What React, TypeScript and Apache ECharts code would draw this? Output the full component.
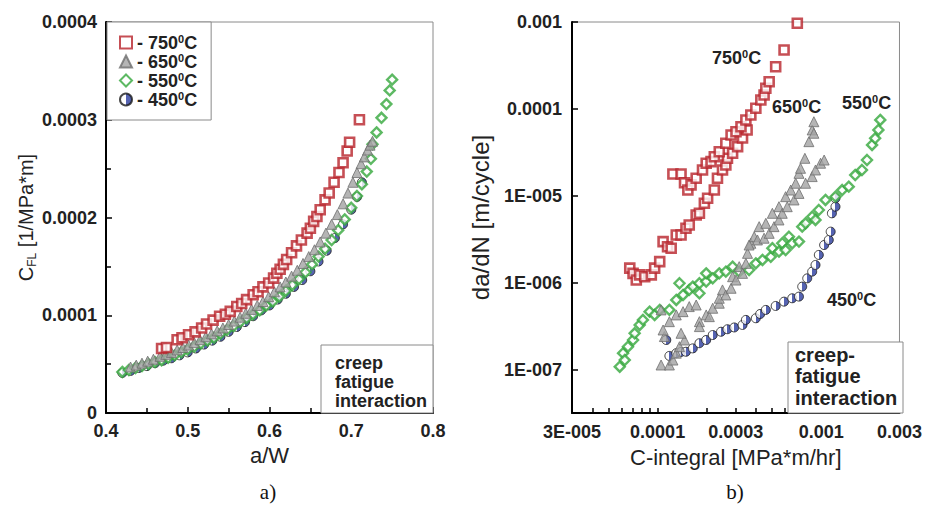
import React, { useEffect, useRef } from 'react';
import * as echarts from 'echarts';

// ---------- data ----------
const legendNames = ['750', '650', '550', '450'];

// left panel: a/W vs C_FL [1/MPa*m]
const cfl750 = [
  [0.468, 6.6e-5], [0.474, 6.7e-5], [0.487, 7.5e-5], [0.493, 7.7e-5], [0.501, 8.0e-5], [0.509, 8.3e-5],
  [0.517, 8.7e-5], [0.523, 9.1e-5], [0.531, 9.5e-5], [0.539, 9.9e-5], [0.546, 1.01e-4], [0.552, 1.04e-4],
  [0.560, 1.09e-4], [0.566, 1.12e-4], [0.572, 1.16e-4], [0.580, 1.21e-4], [0.586, 1.24e-4], [0.592, 1.29e-4],
  [0.599, 1.33e-4], [0.605, 1.38e-4], [0.609, 1.43e-4], [0.613, 1.47e-4], [0.617, 1.52e-4], [0.621, 1.57e-4],
  [0.627, 1.64e-4], [0.633, 1.71e-4], [0.639, 1.77e-4], [0.646, 1.84e-4], [0.650, 1.89e-4], [0.654, 1.96e-4],
  [0.658, 2.01e-4], [0.662, 2.08e-4], [0.668, 2.18e-4], [0.673, 2.25e-4], [0.679, 2.36e-4], [0.685, 2.46e-4],
  [0.690, 2.56e-4], [0.695, 2.68e-4], [0.698, 2.77e-4], [0.710, 3.0e-4],
];
const cfl650 = [
  [0.430, 4.7e-5], [0.437, 4.9e-5], [0.444, 5.1e-5], [0.451, 5.3e-5], [0.458, 5.5e-5], [0.466, 5.8e-5],
  [0.473, 6.0e-5], [0.480, 6.2e-5], [0.487, 6.45e-5], [0.494, 6.7e-5], [0.501, 6.95e-5], [0.508, 7.2e-5],
  [0.515, 7.5e-5], [0.522, 7.8e-5], [0.529, 8.1e-5], [0.536, 8.4e-5], [0.543, 8.7e-5], [0.550, 9.05e-5],
  [0.557, 9.4e-5], [0.564, 9.8e-5], [0.571, 1.02e-4], [0.578, 1.06e-4], [0.585, 1.10e-4], [0.592, 1.14e-4],
  [0.599, 1.19e-4], [0.606, 1.24e-4], [0.613, 1.29e-4], [0.620, 1.34e-4], [0.627, 1.40e-4], [0.634, 1.46e-4],
  [0.641, 1.53e-4], [0.648, 1.60e-4], [0.655, 1.67e-4], [0.662, 1.75e-4], [0.669, 1.84e-4], [0.676, 1.93e-4],
  [0.683, 2.03e-4], [0.690, 2.14e-4], [0.696, 2.25e-4], [0.702, 2.36e-4], [0.707, 2.46e-4], [0.712, 2.55e-4],
  [0.716, 2.62e-4], [0.720, 2.69e-4], [0.723, 2.74e-4], [0.726, 2.78e-4],
];
const cfl550 = [
  [0.420, 4.2e-5], [0.428, 4.4e-5], [0.436, 4.6e-5], [0.444, 4.8e-5], [0.452, 5.0e-5], [0.460, 5.2e-5],
  [0.468, 5.4e-5], [0.476, 5.65e-5], [0.484, 5.9e-5], [0.492, 6.2e-5], [0.500, 6.5e-5], [0.508, 6.8e-5],
  [0.516, 7.1e-5], [0.524, 7.4e-5], [0.532, 7.7e-5], [0.540, 8.1e-5], [0.548, 8.5e-5], [0.556, 8.9e-5],
  [0.564, 9.3e-5], [0.572, 9.7e-5], [0.580, 1.01e-4], [0.588, 1.05e-4], [0.596, 1.10e-4], [0.604, 1.14e-4],
  [0.612, 1.19e-4], [0.620, 1.25e-4], [0.628, 1.31e-4], [0.636, 1.37e-4], [0.644, 1.44e-4], [0.652, 1.52e-4],
  [0.660, 1.60e-4], [0.668, 1.68e-4], [0.676, 1.77e-4], [0.684, 1.87e-4], [0.692, 1.98e-4], [0.700, 2.10e-4],
  [0.707, 2.22e-4], [0.713, 2.34e-4], [0.719, 2.47e-4], [0.724, 2.60e-4], [0.726, 2.75e-4], [0.731, 2.87e-4],
  [0.737, 3.02e-4], [0.743, 3.16e-4], [0.747, 3.30e-4], [0.750, 3.41e-4],
];
const cfl450 = [
  [0.420, 4.1e-5], [0.430, 4.3e-5], [0.440, 4.6e-5], [0.450, 4.8e-5], [0.460, 5.1e-5], [0.470, 5.35e-5],
  [0.480, 5.6e-5], [0.490, 5.9e-5], [0.500, 6.2e-5], [0.510, 6.6e-5], [0.520, 7.0e-5], [0.530, 7.4e-5],
  [0.540, 7.8e-5], [0.550, 8.3e-5], [0.560, 8.8e-5], [0.570, 9.3e-5], [0.580, 9.9e-5], [0.590, 1.05e-4],
  [0.600, 1.10e-4], [0.610, 1.16e-4], [0.620, 1.22e-4], [0.630, 1.29e-4], [0.640, 1.36e-4], [0.650, 1.45e-4],
  [0.660, 1.55e-4], [0.670, 1.66e-4], [0.680, 1.79e-4], [0.690, 1.93e-4], [0.700, 2.08e-4], [0.707, 2.21e-4],
  [0.713, 2.36e-4],
];

// right panel: C-integral [MPa*m/hr] vs da/dN [m/cycle]
const dadn750 = [
  [6.76e-5, 1.48e-6], [7.08e-5, 1.29e-6], [7.41e-5, 1.08e-6], [7.77e-5, 1.24e-6], [8.34e-5, 1.18e-6],
  [9.15e-5, 1.24e-6], [9.59e-5, 1.48e-6], [1.03e-4, 1.76e-6], [1.08e-4, 2.99e-6], [1.15e-4, 2.61e-6],
  [1.21e-4, 2.51e-6], [1.30e-4, 3.56e-6], [1.39e-4, 3.56e-6], [1.49e-4, 4.26e-6], [1.56e-4, 4.64e-6],
  [1.72e-4, 6.05e-6], [1.80e-4, 6.32e-6], [1.93e-4, 8.24e-6], [2.02e-4, 9.41e-6], [2.22e-4, 1.17e-5],
  [2.32e-4, 1.60e-5], [2.49e-4, 1.99e-5], [2.61e-4, 2.27e-5], [2.67e-4, 2.71e-5], [2.87e-4, 3.10e-5],
  [3.08e-4, 3.69e-5], [3.30e-4, 4.64e-5], [3.52e-4, 5.74e-5],
  [1.24e-4, 1.79e-5], [1.39e-4, 1.79e-5], [1.46e-4, 1.42e-5], [1.53e-4, 1.17e-5], [1.60e-4, 1.34e-5],
  [1.72e-4, 1.60e-5], [1.88e-4, 1.99e-5], [1.98e-4, 2.38e-5], [2.12e-4, 2.48e-5], [2.22e-4, 2.83e-5],
  [2.38e-4, 3.23e-5], [2.61e-4, 4.04e-5], [2.81e-4, 5.02e-5], [3.01e-4, 5.48e-5], [3.23e-4, 6.26e-5],
  [3.46e-4, 7.48e-5], [3.71e-4, 8.53e-5], [3.98e-4, 1.02e-4], [4.27e-4, 1.27e-4], [4.47e-4, 1.45e-4],
  [4.58e-4, 1.73e-4], [4.80e-4, 2.06e-4], [5.26e-4, 3.06e-4], [5.92e-4, 4.77e-4], [7.13e-4, 9.66e-4],
];
const dadn650 = [
  [1.05e-4, 1.14e-7], [1.18e-4, 1.14e-7], [1.24e-4, 1.30e-7], [1.30e-4, 1.56e-7], [1.36e-4, 1.85e-7],
  [1.46e-4, 2.21e-7], [1.39e-4, 2.64e-7], [1.10e-4, 2.42e-7], [1.08e-4, 2.88e-7], [1.05e-4, 4.90e-7],
  [1.18e-4, 3.59e-7], [1.30e-4, 4.29e-7], [1.43e-4, 4.68e-7], [1.56e-4, 5.35e-7], [1.72e-4, 5.58e-7],
  [1.80e-4, 3.59e-7], [1.80e-4, 3.15e-7], [1.98e-4, 4.29e-7], [2.07e-4, 4.10e-7], [2.17e-4, 5.12e-7],
  [2.38e-4, 5.85e-7], [2.38e-4, 6.67e-7], [2.49e-4, 8.32e-7], [2.61e-4, 7.28e-7], [2.81e-4, 8.69e-7],
  [2.87e-4, 1.18e-6], [3.01e-4, 1.08e-6], [3.15e-4, 1.54e-6], [3.30e-4, 1.29e-6], [3.46e-4, 1.68e-6],
  [3.54e-4, 2.19e-6], [3.71e-4, 2.86e-6], [3.62e-4, 2.73e-6], [3.89e-4, 3.40e-6], [4.17e-4, 4.44e-6],
  [4.58e-4, 4.85e-6], [5.02e-4, 6.32e-6], [5.51e-4, 7.53e-6], [4.07e-4, 3.12e-6], [4.47e-4, 3.27e-6],
  [4.80e-4, 3.72e-6], [5.14e-4, 4.44e-6], [5.51e-4, 5.30e-6], [5.77e-4, 6.32e-6], [6.19e-4, 7.53e-6],
  [6.81e-4, 9.00e-6], [7.30e-4, 1.07e-5], [8.01e-4, 1.40e-5], [8.79e-4, 1.67e-5], [9.21e-4, 1.99e-5],
  [9.89e-4, 2.38e-5], [1.04e-3, 2.59e-5], [6.05e-4, 9.82e-6], [6.50e-4, 1.17e-5], [6.97e-4, 1.40e-5],
  [7.30e-4, 1.82e-5], [7.46e-4, 2.08e-5], [7.93e-4, 2.71e-5], [8.39e-4, 4.21e-5], [8.79e-4, 5.74e-5],
  [9.00e-4, 7.14e-5], [9.00e-4, 5.26e-5],
];
const dadn550 = [
  [5.87e-5, 1.09e-7], [6.15e-5, 1.56e-7], [6.30e-5, 1.30e-7], [6.59e-5, 1.85e-7], [7.08e-5, 2.21e-7],
  [7.24e-5, 2.64e-7], [7.77e-5, 3.29e-7], [8.13e-5, 3.76e-7], [8.93e-5, 4.68e-7], [9.59e-5, 4.29e-7],
  [1.03e-4, 4.90e-7], [1.18e-4, 4.90e-7], [1.30e-4, 6.38e-7], [1.36e-4, 9.93e-7], [1.43e-4, 7.28e-7],
  [1.56e-4, 8.32e-7], [1.64e-4, 9.08e-7], [1.80e-4, 9.93e-7], [1.80e-4, 7.62e-7], [1.98e-4, 1.04e-6],
  [1.98e-4, 1.29e-6], [2.17e-4, 1.13e-6], [2.38e-4, 1.29e-6], [2.61e-4, 1.35e-6], [2.87e-4, 1.54e-6],
  [3.15e-4, 1.35e-6], [3.62e-4, 1.41e-6], [3.98e-4, 1.68e-6], [4.37e-4, 1.84e-6], [4.91e-4, 2.00e-6],
  [5.02e-4, 2.51e-6], [5.51e-4, 2.29e-6], [5.77e-4, 2.86e-6], [6.05e-4, 2.39e-6], [6.34e-4, 3.40e-6],
  [6.64e-4, 2.86e-6], [7.30e-4, 2.99e-6], [7.64e-4, 4.44e-6], [8.01e-4, 4.85e-6], [8.79e-4, 5.78e-6],
  [9.21e-4, 5.30e-6], [9.65e-4, 6.90e-6], [1.06e-3, 9.00e-6], [1.22e-3, 9.82e-6], [1.34e-3, 1.17e-5],
  [1.47e-3, 1.28e-5], [1.61e-3, 1.74e-5], [1.77e-3, 1.99e-5], [1.90e-3, 2.59e-5], [2.04e-3, 3.86e-5],
  [2.13e-3, 4.60e-5], [2.23e-3, 5.74e-5], [2.29e-3, 7.48e-5],
];
const dadn450 = [
  [1.13e-4, 2.21e-7], [1.18e-4, 1.45e-7], [1.30e-4, 1.56e-7], [1.39e-4, 1.61e-7], [1.49e-4, 1.62e-7],
  [1.64e-4, 1.77e-7], [1.80e-4, 2.03e-7], [1.98e-4, 2.21e-7], [2.17e-4, 2.52e-7], [2.44e-4, 2.75e-7],
  [2.67e-4, 2.94e-7], [2.94e-4, 3.08e-7], [3.30e-4, 3.29e-7], [3.46e-4, 3.76e-7], [3.98e-4, 3.93e-7],
  [4.23e-4, 4.40e-7], [4.58e-4, 4.90e-7], [5.26e-4, 5.44e-7], [5.92e-4, 6.10e-7], [6.64e-4, 6.67e-7],
  [7.30e-4, 6.97e-7], [7.64e-4, 9.08e-7], [8.20e-4, 1.13e-6], [8.79e-4, 1.35e-6], [9.21e-4, 1.61e-6],
  [9.65e-4, 2.10e-6], [1.04e-3, 2.73e-6], [1.11e-3, 3.12e-6], [1.14e-3, 3.89e-6], [1.16e-3, 6.32e-6],
  [1.22e-3, 7.53e-6], [1.22e-3, 9.41e-6],
];

const leftXTicks = [0.4, 0.5, 0.6, 0.7, 0.8];
const leftYTicks = [0, 0.0001, 0.0002, 0.0003, 0.0004];
const rightXTicks = [3e-5, 1e-4, 3e-4, 1e-3, 3e-3];
const rightXLabels = ['3E-005', '0.0001', '0.0003', '0.001', '0.003'];
const rightXMinor = [3e-5, 4e-5, 5e-5, 6e-5, 7e-5, 8e-5, 9e-5, 1e-4, 2e-4, 3e-4, 4e-4, 5e-4, 6e-4, 7e-4, 8e-4, 9e-4, 1e-3, 2e-3, 3e-3];
const rightYTicks = [1e-7, 1e-6, 1e-5, 1e-4, 1e-3];
const rightYLabels = ['1E-007', '1E-006', '1E-005', '0.0001', '0.001'];

const FONT = '"Liberation Sans", Arial, Helvetica, sans-serif';
const TXT = '#222';

function logLabel(ticks: number[], labels: string[]) {
  return (v: number) => {
    const i = ticks.findIndex((t) => Math.abs(Math.log10(t) - Math.log10(v)) < 0.01);
    return i >= 0 ? labels[i] : '';
  };
}

export default function App() {
  const ref = useRef<HTMLDivElement>(null);
  useEffect(() => {
    const chart = echarts.init(ref.current!, null, { renderer: 'svg' });
    const blueFill = new echarts.graphic.LinearGradient(0, 0, 1, 0, [
      { offset: 0, color: '#ffffff' }, { offset: 0.5, color: '#ffffff' },
      { offset: 0.5, color: '#2b3c9e' }, { offset: 1, color: '#2b3c9e' },
    ]);
    const styles: Record<string, any> = {
      '750': { symbol: 'rect', symbolSize: 9, itemStyle: { color: '#ffffff', borderColor: '#b8232a', borderWidth: 2.6 } },
      '650': { symbol: 'triangle', symbolSize: 10, itemStyle: { color: '#a3a3a3', borderColor: '#6e6e6e', borderWidth: 1 } },
      '550': { symbol: 'diamond', symbolSize: 10, itemStyle: { color: '#ffffff', borderColor: '#35a83c', borderWidth: 2.4 } },
      '450': { symbol: 'circle', symbolSize: 9, itemStyle: { color: blueFill, borderColor: '#1a1a1a', borderWidth: 1 } },
    };
    const leftData: Record<string, number[][]> = { '750': cfl750, '650': cfl650, '550': cfl550, '450': cfl450 };
    const rightData: Record<string, number[][]> = { '750': dadn750, '650': dadn650, '550': dadn550, '450': dadn450 };
    const drawOrder = ['450', '550', '650', '750'];
    const series: any[] = [];
    drawOrder.forEach((n) => {
      series.push({ type: 'scatter', name: n, xAxisIndex: 0, yAxisIndex: 0, data: leftData[n], ...styles[n] });
      series.push({ type: 'scatter', name: n, xAxisIndex: 1, yAxisIndex: 1, data: rightData[n], ...styles[n] });
    });

    const tickLabel = { color: TXT, fontFamily: FONT, fontWeight: 'bold', fontSize: 18 };
    const axisLine = { show: true, onZero: false, lineStyle: { color: '#000', width: 2 } };
    const supRich = { sup: { fontSize: 11, lineHeight: 9, verticalAlign: 'top', fontFamily: FONT, fontWeight: 'bold', color: TXT } };

    const option: any = {
      animation: false,
      backgroundColor: '#ffffff',
      grid: [
        { left: 106, right: 492, top: 22, bottom: 94, show: true, borderColor: '#8a8a8a', borderWidth: 1 },
        { left: 572, right: 23, top: 22, bottom: 94, show: true, borderColor: '#8a8a8a', borderWidth: 1 },
      ],
      legend: {
        data: legendNames,
        orient: 'vertical',
        left: 107,
        top: 22,
        itemWidth: 12,
        itemHeight: 12,
        itemGap: 0,
        padding: [11, 14, 11, 12],
        borderColor: '#8a8a8a',
        borderWidth: 1,
        backgroundColor: '#ffffff',
        selectedMode: false,
        formatter: (name: string) => `- ${name}{sup|0}C`,
        textStyle: { color: TXT, fontFamily: FONT, fontWeight: 'bold', fontSize: 18, lineHeight: 19, rich: supRich },
      },
      xAxis: [
        {
          type: 'value', gridIndex: 0, min: 0.4, max: 0.8, interval: 0.1,
          name: 'a/W', nameLocation: 'middle', nameGap: 30,
          nameTextStyle: { color: TXT, fontFamily: FONT, fontSize: 22 },
          axisLine, splitLine: { show: false },
          axisTick: { show: true, inside: true, length: 6, lineStyle: { color: '#000', width: 1.5 } },
          minorTick: { show: true, splitNumber: 2, length: 5, lineStyle: { color: '#000', width: 1.5 } },
          axisLabel: { ...tickLabel, margin: 9, formatter: (v: number) => {
            const i = leftXTicks.findIndex((t) => Math.abs(t - v) < 1e-9);
            return i >= 0 ? leftXTicks[i].toFixed(1) : '';
          } },
        },
        {
          type: 'log', gridIndex: 1, min: 3e-5, max: 3e-3, logBase: 10,
          name: 'C-integral [MPa*m/hr]', nameLocation: 'middle', nameGap: 33,
          nameTextStyle: { color: TXT, fontFamily: FONT, fontSize: 22 },
          axisLine, splitLine: { show: false }, minorTick: { show: false },
          axisTick: { show: true, inside: true, length: 5, customValues: rightXMinor, lineStyle: { color: '#000', width: 1.5 } },
          axisLabel: { ...tickLabel, margin: 10, customValues: rightXTicks, formatter: logLabel(rightXTicks, rightXLabels) },
        },
      ],
      yAxis: [
        {
          type: 'value', gridIndex: 0, min: 0, max: 0.0004, interval: 0.0001,
          name: 'C{sub|FL} [1/MPa*m]', nameLocation: 'middle', nameGap: 66,
          nameTextStyle: {
            color: TXT, fontFamily: FONT, fontSize: 20, lineHeight: 24,
            rich: { sub: { fontSize: 12, lineHeight: 12, verticalAlign: 'bottom', fontFamily: FONT, color: TXT } },
          },
          axisLine, splitLine: { show: false },
          axisTick: { show: true, inside: true, length: 6, lineStyle: { color: '#000', width: 1.5 } },
          minorTick: { show: true, splitNumber: 2, length: 5, lineStyle: { color: '#000', width: 1.5 } },
          axisLabel: { ...tickLabel, margin: 9, formatter: (v: number) => {
            const i = leftYTicks.findIndex((t) => Math.abs(t - v) < 1e-12);
            return i < 0 ? '' : i === 0 ? '0' : leftYTicks[i].toFixed(4);
          } },
        },
        {
          type: 'log', gridIndex: 1, min: 3.2e-8, max: 1e-3, logBase: 10,
          name: 'da/dN [m/cycle]', nameLocation: 'middle', nameGap: 80,
          nameTextStyle: { color: TXT, fontFamily: FONT, fontSize: 24 },
          axisLine, splitLine: { show: false }, minorTick: { show: false },
          axisTick: { show: true, inside: true, length: 6, customValues: rightYTicks, lineStyle: { color: '#000', width: 1.5 } },
          axisLabel: { ...tickLabel, margin: 10, customValues: rightYTicks, formatter: logLabel(rightYTicks, rightYLabels) },
        },
      ],
      series,
      graphic: [
        { type: 'rect', z: 100, shape: { x: 321, y: 345, width: 112, height: 68 }, style: { fill: '#fff', stroke: '#8a8a8a', lineWidth: 1 } },
        { type: 'text', z: 101, x: 335, y: 353, style: { text: 'creep\nfatigue\ninteraction', font: `bold 18px ${FONT}`, fill: TXT, lineHeight: 19 } },
        { type: 'rect', z: 100, shape: { x: 788, y: 342, width: 115, height: 71 }, style: { fill: '#fff', stroke: '#8a8a8a', lineWidth: 1 } },
        { type: 'text', z: 101, x: 795, y: 344, style: { text: 'creep-\nfatigue\ninteraction', font: `bold 20px ${FONT}`, fill: TXT, lineHeight: 21.5 } },
        { type: 'text', z: 101, x: 712, y: 58, style: { text: '750{sup|0}C', font: `bold 18px ${FONT}`, fill: TXT, verticalAlign: 'middle', lineHeight: 20, rich: supRich } },
        { type: 'text', z: 101, x: 772, y: 107, style: { text: '650{sup|0}C', font: `bold 18px ${FONT}`, fill: TXT, verticalAlign: 'middle', lineHeight: 20, rich: supRich } },
        { type: 'text', z: 101, x: 842, y: 103, style: { text: '550{sup|0}C', font: `bold 18px ${FONT}`, fill: TXT, verticalAlign: 'middle', lineHeight: 20, rich: supRich } },
        { type: 'text', z: 101, x: 827, y: 300, style: { text: '450{sup|0}C', font: `bold 18px ${FONT}`, fill: TXT, verticalAlign: 'middle', lineHeight: 20, rich: supRich } },
        { type: 'text', z: 101, x: 268, y: 481, style: { text: 'a)', font: '21px "Liberation Serif", "Times New Roman", serif', fill: '#111', align: 'center' } },
        { type: 'text', z: 101, x: 735, y: 481, style: { text: 'b)', font: '21px "Liberation Serif", "Times New Roman", serif', fill: '#111', align: 'center' } },
      ],
    };
    chart.setOption(option);
    return () => chart.dispose();
  }, []);
  return (
    <div
      ref={ref}
      style={{ position: 'fixed', left: 0, top: 0, width: 925, height: 507, background: '#fff' }}
    />
  );
}
